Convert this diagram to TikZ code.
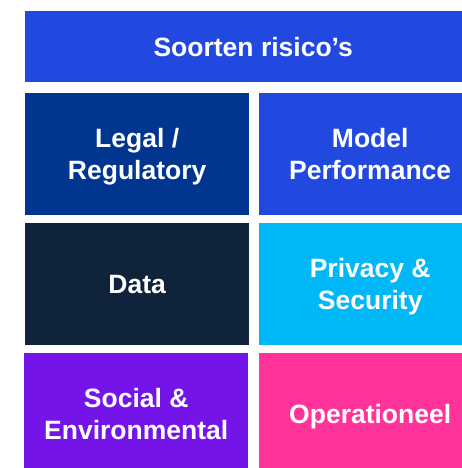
\documentclass[tikz,border=0pt]{standalone}
\usepackage{fontspec}
\setmainfont{Liberation Sans}
\usetikzlibrary{calc}

\definecolor{riskblue}{HTML}{2149E0}
\definecolor{legalblue}{HTML}{003590}
\definecolor{datanavy}{HTML}{0F233A}
\definecolor{privacycyan}{HTML}{00B8F5}
\definecolor{socialpurple}{HTML}{7514E8}
\definecolor{opspink}{HTML}{FF3399}

\begin{document}
\begin{tikzpicture}[
    x=1pt, y=-1pt,
    riskbox/.style={anchor=north west, inner sep=0pt, text=white,
        font=\bfseries\fontsize{26.5}{32}\selectfont, align=center,
        text depth=0pt, minimum height=122pt}
]

% ========== 画布 ==========
\useasboundingbox (0,0) rectangle (462,468);
\clip (0,0) rectangle (462,468);

% ========== 标题 ==========
\node[riskbox, fill=riskblue, minimum width=456pt, minimum height=71pt] (title) at (25,11) {Soorten risico’s};

% ========== 第一行 ==========
\node[riskbox, fill=legalblue, minimum width=224pt] (legal) at (25,93) {Legal /\\Regulatory};
\node[riskbox, fill=riskblue, minimum width=222pt] (model) at (259,93) {Model\\Performance};

% ========== 第二行 ==========
\node[riskbox, fill=datanavy, minimum width=224pt] (data) at (25,223) {Data};
\node[riskbox, fill=privacycyan, minimum width=222pt] (privacy) at (259,223) {Privacy \&\\Security};

% ========== 第三行 ==========
\node[riskbox, fill=socialpurple, minimum width=224pt] (social) at (24,353) {Social \&\\Environmental};
\node[riskbox, fill=opspink, minimum width=222pt] (ops) at (259,353) {Operationeel};

\end{tikzpicture}
\end{document}
